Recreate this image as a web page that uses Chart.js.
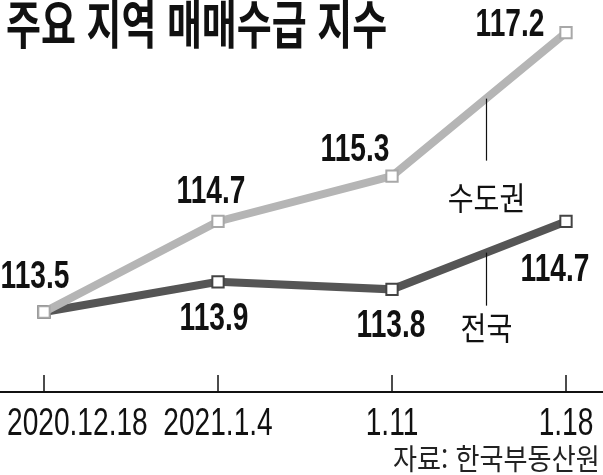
<!DOCTYPE html>
<html lang="ko">
<head>
<meta charset="utf-8">
<script src="https://cdn.jsdelivr.net/npm/chart.js@4.4.1/dist/chart.umd.min.js"></script>
<style>
html, body { margin: 0; padding: 0; background: #fff; }
#wrap { position: relative; width: 603px; height: 475px; overflow: hidden; }
#myChart { position: absolute; left: 0; top: 0; }
#title { position: absolute; left: 6px; top: -4px; font-family: "Noto Sans CJK KR"; font-weight: 700; font-size: 52px; line-height: 1; white-space: nowrap; transform: scaleX(0.73); transform-origin: left top; color: #111; }
#source { position: absolute; right: 3px; top: 443px; font-family: "Noto Sans CJK KR"; font-size: 29px; line-height: 1; white-space: nowrap; transform: scaleX(0.9); transform-origin: right top; color: #222; }
</style>
</head>
<body>
<div id="wrap">
    <canvas id="myChart" width="603" height="475"></canvas>
    <div id="title">주요 지역 매매수급 지수</div>
    <div id="source">자료: 한국부동산원</div>
</div>
<script>
const dates = ['2020.12.18', '2021.1.4', '1.11', '1.18'];
const capitalArea = [113.5, 114.7, 115.3, 117.2];
const nationwide = [113.5, 113.9, 113.8, 114.7];
const seriesNames = ['수도권', '전국'];

// where each value label sits, relative to its point (null = no label)
const labelOffsets = [
    [[-9, -38], [-7, -32], [-37, -29], [-56, -11]],
    [null, [-4, 34], [-1, 34], [-11, 46]]
];

function squeezeText(ctx, text, x, baseline, sx, align) {
    const w = ctx.measureText(text).width * sx;
    let left = x - w / 2;
    if (align === 'left') left = x;
    if (align === 'right') left = x - w;
    ctx.save();
    ctx.translate(left, baseline);
    ctx.scale(sx, 1);
    ctx.textAlign = 'left';
    ctx.fillText(text, 0, 0);
    ctx.restore();
    return w;
}

const decorPlugin = {
    id: 'decor',
    afterDatasetsDraw(chart) {
        const ctx = chart.ctx;
        const xScale = chart.scales.x;
        const area = chart.chartArea;
        const axisY = area.bottom + 4.5;
        ctx.save();

        // axis line and ticks
        ctx.strokeStyle = '#111';
        ctx.lineWidth = 2;
        ctx.beginPath();
        ctx.moveTo(0, axisY);
        ctx.lineTo(chart.width, axisY);
        ctx.stroke();
        ctx.lineWidth = 1.5;
        dates.forEach(function (d, i) {
            const px = Math.round(xScale.getPixelForTick(i));
            ctx.beginPath();
            ctx.moveTo(px, axisY - 17);
            ctx.lineTo(px, axisY);
            ctx.stroke();
        });

        // tick labels
        ctx.fillStyle = '#111';
        ctx.textBaseline = 'alphabetic';
        ctx.font = '38px "Liberation Sans"';
        dates.forEach(function (d, i) {
            const px = xScale.getPixelForTick(i);
            const w = ctx.measureText(d).width * 0.74;
            let left = px - w / 2;
            if (left < 7) left = 7;
            if (left + w > chart.width - 5) left = chart.width - 5 - w;
            squeezeText(ctx, d, left, axisY + 43, 0.74, 'left');
        });

        // value labels
        ctx.font = 'bold 38px "Liberation Sans"';
        chart.data.datasets.forEach(function (ds, di) {
            const meta = chart.getDatasetMeta(di);
            meta.data.forEach(function (pt, i) {
                const off = labelOffsets[di][i];
                if (!off) return;
                squeezeText(ctx, ds.data[i].toFixed(1), pt.x + off[0], pt.y + off[1] + 14, 0.74, 'center');
            });
        });

        // series names with leader lines
        ctx.font = '32px "Noto Sans CJK KR"';
        ctx.lineWidth = 1.2;
        const leaderLen = [62, 53];
        const nameGap = [37, 22];
        chart.data.datasets.forEach(function (ds, di) {
            const pts = chart.getDatasetMeta(di).data;
            const a = pts[2], b = pts[3];
            const t = 0.54;
            const lx = Math.round(a.x + (b.x - a.x) * t) + 0.5;
            const ly = a.y + (b.y - a.y) * t;
            ctx.beginPath();
            ctx.moveTo(lx, ly);
            ctx.lineTo(lx, ly + leaderLen[di]);
            ctx.stroke();
            const cy = ly + leaderLen[di] + nameGap[di];
            squeezeText(ctx, seriesNames[di], lx, cy + 12, 0.88, 'center');
        });

        ctx.restore();
    }
};

new Chart(document.getElementById('myChart'), {
    type: 'line',
    data: {
        labels: dates,
        datasets: [{
            label: seriesNames[0],
            data: capitalArea,
            borderColor: '#b5b5b5',
            borderWidth: 8,
            pointStyle: 'rect',
            pointRadius: 8,
            pointBorderWidth: 2,
            pointBorderColor: '#a8a8a8',
            pointBackgroundColor: '#fff',
            tension: 0
        }, {
            label: seriesNames[1],
            data: nationwide,
            borderColor: '#555555',
            borderWidth: 8,
            pointStyle: 'rect',
            pointRadius: 8,
            pointBorderWidth: 2,
            pointBorderColor: '#444444',
            pointBackgroundColor: '#fff',
            tension: 0
        }]
    },
    options: {
        responsive: false,
        animation: false,
        events: [],
        layout: {
            padding: { left: 44, right: 37, top: 9.3, bottom: 87.5 }
        },
        plugins: {
            legend: { display: false },
            tooltip: { enabled: false },
            title: { display: false }
        },
        scales: {
            x: { display: false, offset: false },
            y: { display: false, min: 112.5, max: 117.5 }
        },
        clip: false
    },
    plugins: [decorPlugin]
});
</script>
</body>
</html>
